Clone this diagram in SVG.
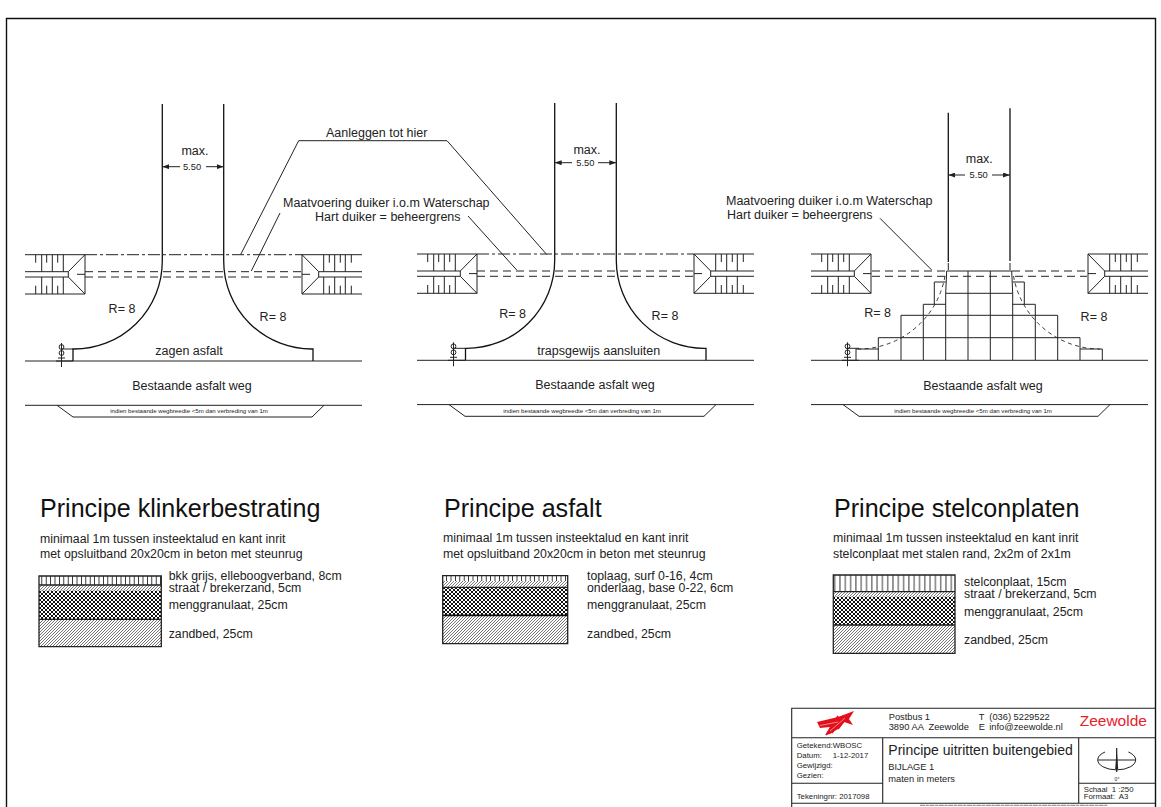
<svg xmlns="http://www.w3.org/2000/svg" xmlns:xlink="http://www.w3.org/1999/xlink" width="1161" height="807" viewBox="0 0 1161 807">
<style>
text{font-family:"Liberation Sans",Arial,sans-serif;fill:#222}
.l{fill:none;stroke:#222;stroke-width:1}
.h{fill:none;stroke:#111;stroke-width:1.3}
.dd{fill:none;stroke:#222;stroke-width:1;stroke-dasharray:12 3 3 3}
.d{fill:none;stroke:#222;stroke-width:1;stroke-dasharray:8 5}
.da{fill:none;stroke:#222;stroke-width:.9;stroke-dasharray:4 3.5}
.f{fill:none;stroke:#222;stroke-width:1.3}
.m{font-size:12.5px;text-anchor:middle}
.n{font-size:12.5px}
.s5{font-size:9.4px;text-anchor:middle}
.tiny{font-size:6.1px;text-anchor:middle}
.t{font-size:25.1px;fill:#111}
.sub{font-size:12.3px}
.lay{font-size:12.3px}
.b8{font-size:7.8px}
.b9{font-size:9.3px}
</style>
<defs>
<marker id="ar" markerWidth="7" markerHeight="5" refX="7" refY="2.5" orient="auto-start-reverse" markerUnits="userSpaceOnUse"><path d="M0 0L7 2.5L0 5Z" fill="#222"/></marker>
<g id="block" class="l">
<path d="M25 254.7H85V294H25M25 271.7H68.3V277H25M68.3 271.7L85 254.7M68.3 277L85 294M77 274.3H85"/>
<path d="M35.7 254.7V262.7M41.7 254.7V271.7M46.7 254.7V262.7M52.3 254.7V271.7M57.7 254.7V262.7M63.3 254.7V271.7M35.7 294V285.7M41.7 294V277M46.7 294V285.7M52.3 294V277M57.7 294V285.7M63.3 294V277"/>
</g>
<g id="base">
<use href="#block"/>
<use href="#block" transform="matrix(-1 0 0 1 387 0)"/>
<path class="l" d="M25 361H362M25 405.3H362M57 405.3L73 417H312L324 405.3"/>
<path class="l" d="M61.5 343V367M61 349H73M56 361H73"/>
<circle class="l" cx="61.5" cy="347" r="2.4"/><circle class="l" cx="61.5" cy="353" r="2.4"/>
<path class="l" d="M58 358H65"/>
</g>
<pattern id="pv" width="4.4" height="20" patternUnits="userSpaceOnUse"><path d="M2.2 0V20" stroke="#222" stroke-width=".9"/></pattern>
<pattern id="pv3" width="5.3" height="30" patternUnits="userSpaceOnUse"><path d="M2.6 0V30" stroke="#222" stroke-width=".9"/></pattern>
<pattern id="pb" width="3" height="3" patternUnits="userSpaceOnUse"><path d="M0 3L3 0M-1 1L1 -1M2 4L4 2" stroke="#444" stroke-width=".7"/></pattern>
<pattern id="pm" width="4" height="4" patternUnits="userSpaceOnUse"><rect width="4" height="4" fill="#fff"/><path d="M0 0L4 4M0 4L4 0M-1 1L1 -1M-1 3L1 5M3 -1L5 1M3 5L5 3" stroke="#111" stroke-width="1"/></pattern>
<pattern id="ps" width="3" height="3" patternUnits="userSpaceOnUse"><path d="M0 3L3 0M-1 1L1 -1M2 4L4 2" stroke="#444" stroke-width=".75"/></pattern>
</defs>
<rect width="1161" height="807" fill="#fff"/>
<path id="frame" d="M6.5 807V18.5H1155.5V807" fill="none" stroke="#111" stroke-width="1.4"/>

<g id="connectors">
<path class="l" d="M240.7 254.5L298.7 140.7H447L546.7 254.5"/>
<path class="l" d="M280 213L251.3 271M468 216L516.7 270"/>
<path class="l" d="M880 218.3L931.7 270"/>
</g>

<g id="panel-klinker">
<use href="#base"/>
<path class="dd" d="M85 254.7H302"/>
<path class="d" d="M85 271.7H302M85 277H302"/>
<path class="h" d="M162.3 104V261A88 88 0 0 1 73 349V361"/>
<path class="h" d="M223.7 104V261A88 88 0 0 0 313 349V361"/>
<path class="l" marker-start="url(#ar)" d="M162.3 166.7H180"/>
<path class="l" marker-start="url(#ar)" d="M223.7 166.7H206"/>
<text class="m" x="195" y="155">max.</text>
<text class="s5" x="192" y="170">5.50</text>
<text class="m" x="122" y="313.3">R= 8</text>
<text class="m" x="273" y="321">R= 8</text>
<text class="m" x="189" y="355">zagen asfalt</text>
<text class="m" x="192" y="390">Bestaande asfalt weg</text>
<text class="tiny" x="189" y="412.9">indien bestaande wegbreedte &lt;5m dan verbreding van 1m</text>
</g>

<g id="panel-asfalt">
<use href="#base" transform="translate(392 -0.7)"/>
<path class="dd" d="M477 254H694"/>
<path class="d" d="M477 271H694M477 276.3H694"/>
<path class="h" d="M554.7 103V260.3A88 88 0 0 1 465.5 348.3V360.3"/>
<path class="h" d="M616.3 103V260.3A88 88 0 0 0 706 348.3V360.3"/>
<path class="l" marker-start="url(#ar)" d="M554.7 162.7H572"/>
<path class="l" marker-start="url(#ar)" d="M616.3 162.7H598"/>
<text class="m" x="587" y="154">max.</text>
<text class="s5" x="585.3" y="166">5.50</text>
<text class="m" x="512.7" y="318.3">R= 8</text>
<text class="m" x="665" y="320.3">R= 8</text>
<text class="m" x="598.7" y="355">trapsgewijs aansluiten</text>
<text class="m" x="595" y="389.3">Bestaande asfalt weg</text>
<text class="tiny" x="582" y="412.6">indien bestaande wegbreedte &lt;5m dan verbreding van 1m</text>
</g>

<g id="panel-stelcon">
<use href="#base" transform="translate(786 -0.7)"/>
<path class="d" d="M872 271H946M1012 271H1087M872 276.3H1087"/>
<path class="h" d="M948.3 112.7V262M1010 108.3V261"/>
<path class="l" d="M948.3 263V270M1010 263V270"/>
<path class="l" d="M946.7 271H1011.7M946.7 271L945.7 293.3M1011.7 271L1012.7 293.3"/>
<path class="l" d="M945.7 293.3H1012.7M968 271V360M990.3 271V360M945.7 293.3V360M1012.7 293.3V360"/>
<path class="l" d="M934.3 304.3V282H945.7M1024.3 304.3V282H1012.7M923.3 304.3H945.7M1012.7 304.3H1035.3M923.3 304.3V360M1035.3 304.3V360"/>
<path class="l" d="M901 315.3H1057.7M901 315.3V360M1057.7 315.3V360"/>
<path class="l" d="M878.3 337.7H1080M878.3 337.7V360M1080 337.7V360"/>
<path class="l" d="M878.3 349H856V360M1080 349H1102.3V360"/>
<path class="da" d="M945 276A88 88 0 0 1 858 349"/>
<path class="da" d="M1013.5 276A88 88 0 0 0 1100 349"/>
<path class="l" marker-start="url(#ar)" d="M948.3 175H965"/>
<path class="l" marker-start="url(#ar)" d="M1010 175H992"/>
<text class="m" x="979.3" y="162.7">max.</text>
<text class="s5" x="978.7" y="178.3">5.50</text>
<text class="m" x="877.7" y="317">R= 8</text>
<text class="m" x="1094" y="321">R= 8</text>
<text class="m" x="983" y="390">Bestaande asfalt weg</text>
<text class="tiny" x="973" y="412.9">indien bestaande wegbreedte &lt;5m dan verbreding van 1m</text>
</g>

<g id="labels">
<text class="n" x="326" y="137">Aanleggen tot hier</text>
<text class="n" x="283" y="206.5">Maatvoering duiker i.o.m Waterschap</text>
<text class="n" x="315" y="220.5">Hart duiker = beheergrens</text>
<text class="n" x="726" y="205">Maatvoering duiker i.o.m Waterschap</text>
<text class="n" x="727" y="219">Hart duiker = beheergrens</text>
</g>

<g id="principe-klinker">
<text class="t" x="40" y="517">Principe klinkerbestrating</text>
<text class="sub" x="40" y="542.5">minimaal 1m tussen insteektalud en kant inrit</text>
<text class="sub" x="40" y="558">met opsluitband 20x20cm in beton met steunrug</text>
<rect x="39" y="576" width="122.3" height="9" fill="url(#pv)"/>
<rect x="39" y="585" width="122.3" height="5.7" fill="url(#pb)"/>
<rect x="39" y="590.7" width="122.3" height="28.6" fill="url(#pm)"/>
<rect x="39" y="619.3" width="122.3" height="27.4" fill="url(#ps)"/>
<path class="f" d="M39 576H161.3V646.7H39ZM39 585H161.3M39 619.3H161.3"/>
<text class="lay" x="168.7" y="579.5">bkk grijs, elleboogverband, 8cm</text>
<text class="lay" x="168.7" y="591.7">straat / brekerzand, 5cm</text>
<text class="lay" x="168.7" y="608.7">menggranulaat, 25cm</text>
<text class="lay" x="168.7" y="638.3">zandbed, 25cm</text>
</g>

<g id="principe-asfalt">
<text class="t" x="444" y="517">Principe asfalt</text>
<text class="sub" x="443" y="541.7">minimaal 1m tussen insteektalud en kant inrit</text>
<text class="sub" x="443" y="557.7">met opsluitband 20x20cm in beton met steunrug</text>
<rect x="442.7" y="575.7" width="125" height="5.3" fill="url(#pv)"/>
<rect x="442.7" y="581" width="125" height="6.3" fill="url(#pb)"/>
<rect x="442.7" y="587.3" width="125" height="28" fill="url(#pm)"/>
<rect x="442.7" y="615.3" width="125" height="28.4" fill="url(#ps)"/>
<path class="f" d="M442.7 575.7H567.7V643.7H442.7ZM442.7 587.3H567.7"/>
<path d="M442.7 615.3H567.7" fill="none" stroke="#111" stroke-width="1.8"/>
<text class="lay" x="587" y="580">toplaag, surf 0-16, 4cm</text>
<text class="lay" x="587" y="591.7">onderlaag, base 0-22, 6cm</text>
<text class="lay" x="587" y="608.7">menggranulaat, 25cm</text>
<text class="lay" x="587" y="638.3">zandbed, 25cm</text>
</g>

<g id="principe-stelcon">
<text class="t" x="834" y="517">Principe stelconplaten</text>
<text class="sub" x="833" y="541.7">minimaal 1m tussen insteektalud en kant inrit</text>
<text class="sub" x="833" y="557.7">stelconplaat met stalen rand, 2x2m of 2x1m</text>
<rect x="833.3" y="575" width="121.7" height="16.7" fill="url(#pv3)"/>
<rect x="833.3" y="591.7" width="121.7" height="5" fill="url(#pb)"/>
<rect x="833.3" y="596.7" width="121.7" height="28.3" fill="url(#pm)"/>
<rect x="833.3" y="625" width="121.7" height="28.3" fill="url(#ps)"/>
<path class="f" d="M833.3 575H955V653.3H833.3ZM833.3 591.7H955M833.3 625H955"/>
<text class="lay" x="964" y="585.7">stelconplaat, 15cm</text>
<text class="lay" x="964" y="597.7">straat / brekerzand, 5cm</text>
<text class="lay" x="964" y="615.7">menggranulaat, 25cm</text>
<text class="lay" x="964" y="644">zandbed, 25cm</text>
</g>

<g id="titleblock">
<path d="M791.7 807V708.3H1155.5M791.7 737.7H1155.5M882.7 737.7V803.3M1078.7 737.7V803.3M791.7 783.3H882.7M1078.7 783.3H1155.5M791.7 803.3H1155.5" fill="none" stroke="#222" stroke-width="1.1"/>
<g id="logo">
<path d="M817 722L838 717L854 711L849 719L853 725L844 722L838 729L830 734L826 735L830 727L820 728Z" fill="#e3101c"/>
<path d="M826 735L838 716M832 733L843 716M838 729L848 716" fill="none" stroke="#e3101c" stroke-width="1.6"/>
<path d="M820 725.5L838 722M830 731L845 718" fill="none" stroke="#fff" stroke-width=".5"/>
</g>
<text class="b9" x="888.7" y="720">Postbus 1</text>
<text class="b9" x="888.7" y="730" xml:space="preserve">3890 AA  Zeewolde</text>
<text class="b9" x="978.7" y="720">T</text>
<text class="b9" x="978.7" y="730">E</text>
<text class="b9" x="989.3" y="720">(036) 5229522</text>
<text class="b9" x="989.3" y="730">info@zeewolde.nl</text>
<text x="1079.7" y="726" font-size="15.5" style="fill:#e8202a">Zeewolde</text>
<text class="b8" x="796.7" y="748">Getekend:WBOSC</text>
<text class="b8" x="796.7" y="758.3">Datum:</text>
<text class="b8" x="832.7" y="758.3">1-12-2017</text>
<text class="b8" x="796.7" y="768.3">Gewijzigd:</text>
<text class="b8" x="796.7" y="778">Gezien:</text>
<text class="b8" x="796.7" y="798.7">Tekeningnr: 2017098</text>
<text x="888.3" y="755" font-size="14">Principe uitritten buitengebied</text>
<text class="b9" x="888.3" y="770">BIJLAGE 1</text>
<text class="b9" x="888.3" y="782.3">maten in meters</text>
<text class="b8" x="1083.7" y="792" xml:space="preserve">Schaal  1 :250</text>
<text class="b8" x="1083.7" y="799.3" xml:space="preserve">Formaat:  A3</text>
<g id="north" fill="none" stroke="#222" stroke-width="1">
<path d="M1105 752A19 10 0 1 0 1128.4 752"/>
<path d="M1098 760H1136"/>
<path d="M1116.7 748V772" stroke-width="1.2"/>
<path d="M1116.7 749L1118.2 769H1115.2Z" fill="#222" stroke="none"/>
</g>
<text x="1117" y="781" font-size="5" text-anchor="middle">0°</text>
<path id="plotline" d="M920 805.3H1108" stroke="#999" stroke-width="1.3" stroke-dasharray="5 .7 3 .7" fill="none"/>
</g>
</svg>
